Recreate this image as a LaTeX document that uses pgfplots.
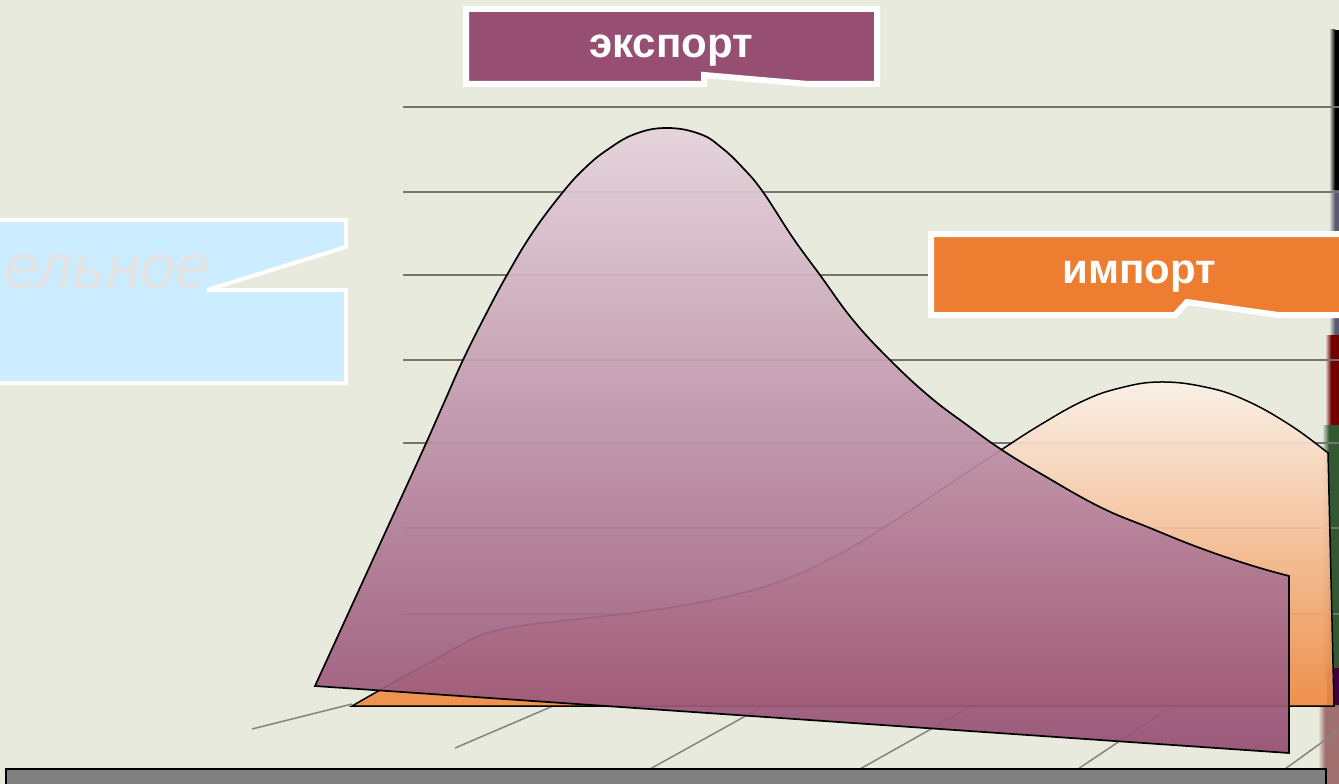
\documentclass[border=0pt]{standalone}
\usepackage{fontspec}
\setmainfont{Liberation Sans}
\usepackage{pgfplots}
\pgfplotsset{compat=1.18}
\definecolor{paper}{HTML}{E9EADE}
\definecolor{gridc}{HTML}{74756C}
\definecolor{floorc}{HTML}{85857F}
\definecolor{expo}{HTML}{964F73}
\definecolor{impo}{HTML}{ED7D31}
\definecolor{impotop}{HTML}{FBF1E8}
\definecolor{impobot}{HTML}{EF8A42}
\definecolor{sky}{HTML}{CCECFF}
\begin{document}
\begin{tikzpicture}[x=1pt,y=1pt]
\begin{axis}[
  scale only axis, width=1339pt, height=784pt,
  xmin=0, xmax=1339, ymin=0, ymax=784, y dir=reverse,
  axis lines=none, clip=true, ticks=none]
% paper
\addplot[fill=paper, draw=none] coordinates {(0,0)(1339,0)(1339,784)(0,784)} -- cycle;
% right edge strip
\addplot[left color=paper, right color=black, draw=none] coordinates {(1329,30)(1335,30)(1335,190)(1329,190)} -- cycle;
\addplot[fill=black, draw=none] coordinates {(1335,30)(1339,30)(1339,190)(1335,190)} -- cycle;
\addplot[left color=paper, right color=black!70!blue!30!gray, draw=none] coordinates {(1329,190)(1335,190)(1335,335)(1329,335)} -- cycle;
\addplot[fill=black!70!blue!30!gray, draw=none] coordinates {(1335,190)(1339,190)(1339,335)(1335,335)} -- cycle;
\addplot[left color=paper, right color=red!45!black, draw=none] coordinates {(1325,335)(1331,335)(1331,425)(1325,425)} -- cycle;
\addplot[fill=red!45!black, draw=none] coordinates {(1331,335)(1339,335)(1339,425)(1331,425)} -- cycle;
\addplot[left color=paper, right color=green!25!black!60!gray, draw=none] coordinates {(1322,425)(1329,425)(1329,680)(1322,680)} -- cycle;
\addplot[fill=green!25!black!60!gray, draw=none] coordinates {(1329,425)(1339,425)(1339,680)(1329,680)} -- cycle;
\addplot[fill=violet!50!black, draw=none] coordinates {(1327,668)(1339,668)(1339,705)(1327,705)} -- cycle;
\addplot[left color=paper, right color=black!45!white!80!red, draw=none] coordinates {(1318,705)(1325,705)(1325,784)(1318,784)} -- cycle;
\addplot[fill=black!45!white!80!red, draw=none] coordinates {(1325,705)(1339,705)(1339,784)(1325,784)} -- cycle;
% grid lines
\addplot[gridc, line width=1.3pt] coordinates {(403,107)(1339,107)};
\addplot[gridc, line width=1.3pt] coordinates {(403,192)(1339,192)};
\addplot[gridc, line width=1.3pt] coordinates {(403,275)(1339,275)};
\addplot[gridc, line width=1.3pt] coordinates {(403,360)(1339,360)};
\addplot[gridc, line width=1.3pt] coordinates {(403,443)(1339,443)};
\addplot[gridc, line width=1.3pt] coordinates {(403,528)(1339,528)};
\addplot[gridc, line width=1.3pt] coordinates {(403,614)(1339,614)};
\addplot[gridc, line width=1.3pt] coordinates {(352,706)(1339,706)};
% floor lines
\addplot[floorc, line width=1.5pt] coordinates {(252,729)(352,704)};
\addplot[floorc, line width=1.5pt] coordinates {(455,748)(553,706)};
\addplot[floorc, line width=1.5pt] coordinates {(650,769)(760,708)};
\addplot[floorc, line width=1.5pt] coordinates {(860,769)(972,706)};
\addplot[floorc, line width=1.5pt] coordinates {(1078,769)(1172,706)};
\addplot[floorc, line width=1.5pt] coordinates {(1285,769)(1339,730)};
% import
\addplot[smooth, tension=0.7, draw=black, line width=1.5pt, line join=miter, top color=impotop, bottom color=impobot, fill opacity=.93] coordinates {
 (352,706)(396,681)(440,657)(474,638)(495,631)(520,626)(560,621)(624,614)(685,605)(738,594)(784,580)(834,557)(888,525)(945,487)(1001,450)(1040,425)(1083,401)(1120,388)(1160,382)(1205,387)(1245,400)(1290,425)(1328,453)}
 -- (axis cs:1334,706) -- (axis cs:352,706) -- cycle;
% export
\addplot[smooth, tension=0.7, draw=black, line width=1.7pt, line join=miter, top color=expo!25!white, bottom color=expo, fill opacity=.93] coordinates {
 (315,686)(342,627)(369,568)(396,509)(423,450)(443,405)(463,360)(485,316)(507,275)(533,232)(563,192)(585,168)(607,150)(635,134)(667,128)(700,134)(722,148)(743,168)(763,192)(793,238)(820,275)(853,320)(890,360)(930,397)(967,425)(1002,450)(1043,475)(1100,507)(1150,528)(1200,548)(1250,565)(1289,576)}
 -- (axis cs:1289,753) -- (axis cs:315,686) -- cycle;
% bottom bar
\addplot[fill=gray, draw=black, line width=2pt] coordinates {(6,769)(1326,769)(1326,790)(6,790)} -- cycle;
% sky callout
\addplot[fill=sky, draw=white, line width=4pt, miter limit=2] coordinates {(-5,220)(346,220)(346,247)(207,290)(346,290)(346,383)(-5,383)} -- cycle;
\node[anchor=base east, text=black!11, font=\itshape\fontsize{63}{63}\selectfont, inner sep=0pt] at (axis cs:211,288) {ельное};
% export callout
\addplot[fill=expo, draw=white, line width=6pt, miter limit=2] coordinates {(466,9)(877,9)(877,84)(808,84)(704,75)(704,84)(466,84)} -- cycle;
\node[anchor=base, text=white, font=\bfseries\fontsize{42}{42}\selectfont, inner sep=0pt] at (axis cs:671,58) {экспорт};
% import callout
\addplot[fill=impo, draw=white, line width=6pt, miter limit=2] coordinates {(931,234)(1345,234)(1345,315)(1278,315)(1187,302)(1175,315)(931,315)} -- cycle;
\node[anchor=base, text=white, font=\bfseries\fontsize{42}{42}\selectfont, inner sep=0pt] at (axis cs:1139,283) {импорт};
\end{axis}
\end{tikzpicture}
\end{document}
